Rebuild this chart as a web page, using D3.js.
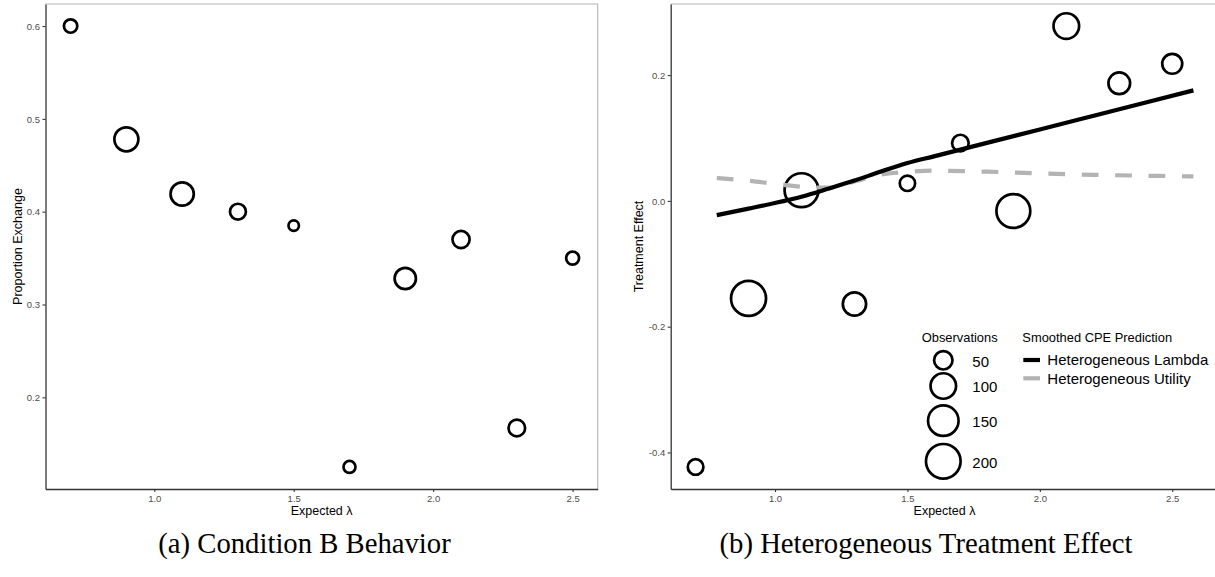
<!DOCTYPE html>
<html>
<head>
<meta charset="utf-8">
<script src="https://cdn.jsdelivr.net/npm/d3@7"></script>
<style>
  html, body { margin: 0; padding: 0; background: #fff; }
  svg { display: block; }
  .tick text { font-family: "Liberation Sans", Arial, sans-serif; font-size: 9.5px; fill: #4d4d4d; }
  .axis-title { font-family: "Liberation Sans", Arial, sans-serif; font-size: 12.5px; fill: #000; }
  .legend-title { font-family: "Liberation Sans", Arial, sans-serif; font-size: 12.9px; fill: #000; }
  .legend-label { font-family: "Liberation Sans", Arial, sans-serif; font-size: 15px; fill: #000; }
  .caption { font-family: "Liberation Serif", "Times New Roman", serif; font-size: 28.7px; fill: #000; }
</style>
</head>
<body>
<svg id="fig" width="1215" height="577"></svg>
<script>
// Expected lambda for each session group
const lambdaGroups = [0.7, 0.9, 1.1, 1.3, 1.5, 1.7, 1.9, 2.1, 2.3, 2.5];

// (a) Condition B: share of subjects who exchanged, with group sizes
const propExchange = [0.600, 0.478, 0.419, 0.400, 0.385, 0.125, 0.328, 0.370, 0.167, 0.350];
const condBObs = [31, 100, 94, 44, 19, 25, 79, 51, 48, 29];

// (b) Treatment effect per group, with number of observations
const treatEffect = [-0.423, -0.155, 0.017, -0.164, 0.028, 0.092, -0.016, 0.278, 0.187, 0.218];
const treatObs = [37, 205, 190, 82, 36, 41, 190, 101, 70, 59];

// Smoothed CPE predictions
const smoothLambdaX = [0.78, 0.9, 1.0, 1.1, 1.2, 1.3, 1.4, 1.5, 1.6, 1.8, 2.0, 2.2, 2.4, 2.58];
const predHetLambda = [-0.0227, -0.0122, -0.0033, 0.0067, 0.0192, 0.0323, 0.0467, 0.0601, 0.0708, 0.0922, 0.1136, 0.135, 0.1564, 0.1757];
const predHetUtility = [0.0365, 0.032, 0.027, 0.0225, 0.021, 0.031, 0.042, 0.046, 0.048, 0.0465, 0.0437, 0.0415, 0.040, 0.039];

// Tick values and legend entries
const xTicks = [1.0, 1.5, 2.0, 2.5];
const yTicksA = [0.2, 0.3, 0.4, 0.5, 0.6];
const yTicksB = [-0.4, -0.2, 0.0, 0.2];
const obsLegend = [50, 100, 150, 200];
const predSeries = ["Heterogeneous Lambda", "Heterogeneous Utility"];
const predColors = ["#000000", "#b3b3b3"];

const svg = d3.select("#fig");
svg.append("rect").attr("width", 1215).attr("height", 577).attr("fill", "#fff");

const fmt = v => d3.format(".1f")(v).replace("\u2212", "-");

// continuous range padded by 5% on each side
function padded(values) {
  const [lo, hi] = d3.extent(values);
  const p = (hi - lo) * 0.05;
  return [lo - p, hi + p];
}

function panel(box, xDomain, yDomain, yTicks, yTitle, yTitleX) {
  const g = svg.append("g");
  const x = d3.scaleLinear().domain(xDomain).range([box.x0, box.x1]);
  const y = d3.scaleLinear().domain(yDomain).range([box.y1, box.y0]);

  // light frame on top and right
  g.append("path")
    .attr("d", `M${box.x0},${box.y0}H${box.x1}V${box.y1}`)
    .attr("fill", "none").attr("stroke", "#b5b5b5").attr("stroke-width", 1.1);

  const xa = g.append("g").attr("transform", `translate(0,${box.y1})`)
    .call(d3.axisBottom(x).tickValues(xTicks).tickFormat(fmt).tickSize(3).tickSizeOuter(0).tickPadding(3));
  const ya = g.append("g").attr("transform", `translate(${box.x0},0)`)
    .call(d3.axisLeft(y).tickValues(yTicks).tickFormat(fmt).tickSize(3).tickSizeOuter(0).tickPadding(2.5));
  [xa, ya].forEach(a => {
    a.select(".domain").attr("stroke", "#333").attr("stroke-width", 1.3);
    a.selectAll(".tick line").attr("stroke", "#333").attr("stroke-width", 1.1);
  });
  ya.selectAll(".tick text").attr("dy", "0.34em");

  g.append("text").attr("class", "axis-title")
    .attr("x", (box.x0 + box.x1) / 2)
    .attr("y", box.y1 + 26).attr("text-anchor", "middle")
    .text("Expected \u03bb");
  g.append("text").attr("class", "axis-title")
    .attr("transform", `translate(${yTitleX},${(box.y0 + box.y1) / 2}) rotate(-90)`)
    .attr("text-anchor", "middle")
    .text(yTitle);
  return { g, x, y };
}

// ---------- (a) Condition B Behavior ----------
const boxA = { x0: 45.5, x1: 597.7, y0: 4, y1: 489 };
const pa = panel(boxA, padded(lambdaGroups), padded(propExchange), yTicksA, "Proportion Exchange", 21.5);
const rA = d3.scaleSqrt().domain([0, 100]).range([0, 12]);
pa.g.append("g").selectAll("circle")
  .data(lambdaGroups.map((l, i) => ({ l, v: propExchange[i], n: condBObs[i] })))
  .join("circle")
  .attr("cx", d => pa.x(d.l)).attr("cy", d => pa.y(d.v)).attr("r", d => rA(d.n))
  .attr("fill", "none").attr("stroke", "#000").attr("stroke-width", 2.7);

// ---------- (b) Heterogeneous Treatment Effect ----------
const boxB = { x0: 670.7, x1: 1218.3, y0: 4, y1: 489 };
const pb = panel(boxB, padded(lambdaGroups.concat(smoothLambdaX)), padded(treatEffect), yTicksB, "Treatment Effect", 643);

// point area grows with the square root of the rescaled count
const obsRescale = d3.scaleLinear().domain([20, 210]).range([0, 1]).clamp(true);
const obsRadius = d3.scaleLinear().domain([0, 1]).range([3.6, 17.7]);
const rB = n => obsRadius(Math.sqrt(obsRescale(n)));

pb.g.append("g").selectAll("circle")
  .data(lambdaGroups.map((l, i) => ({ l, v: treatEffect[i], n: treatObs[i] })))
  .join("circle")
  .attr("cx", d => pb.x(d.l)).attr("cy", d => pb.y(d.v)).attr("r", d => rB(d.n))
  .attr("fill", "none").attr("stroke", "#000").attr("stroke-width", 2.7);

const line = d3.line().x(d => pb.x(d[0])).y(d => pb.y(d[1])).curve(d3.curveMonotoneX);
pb.g.append("path")
  .attr("d", line(smoothLambdaX.map((l, i) => [l, predHetUtility[i]])))
  .attr("fill", "none").attr("stroke", predColors[1]).attr("stroke-width", 4.2)
  .attr("stroke-dasharray", "16.7 16.7");
pb.g.append("path")
  .attr("d", line(smoothLambdaX.map((l, i) => [l, predHetLambda[i]])))
  .attr("fill", "none").attr("stroke", predColors[0]).attr("stroke-width", 4.2);

// legend: observations
const leg = pb.g.append("g");
leg.append("text").attr("class", "legend-title").attr("x", 921.7).attr("y", 342).text("Observations");
const obsKeyY = [360.3, 386, 420.7, 461.3];
obsLegend.forEach((n, i) => {
  leg.append("circle").attr("cx", 943.3).attr("cy", obsKeyY[i]).attr("r", rB(n))
    .attr("fill", "none").attr("stroke", "#000").attr("stroke-width", 2.7);
  leg.append("text").attr("class", "legend-label").attr("x", 972.3).attr("y", obsKeyY[i] + 1)
    .attr("dy", "0.36em").text(n);
});

// legend: smoothed predictions
leg.append("text").attr("class", "legend-title").attr("x", 1022.3).attr("y", 342).text("Smoothed CPE Prediction");
predSeries.forEach((s, i) => {
  const yy = 360 + i * 18.3;
  leg.append("line").attr("x1", 1023.3).attr("x2", 1040).attr("y1", yy).attr("y2", yy)
    .attr("stroke", predColors[i]).attr("stroke-width", 4.2);
  leg.append("text").attr("class", "legend-label").attr("x", 1047.3).attr("y", yy).attr("dy", "0.36em").text(s);
});

// captions
svg.append("text").attr("class", "caption").attr("x", 304.5).attr("y", 553).attr("text-anchor", "middle")
  .text("(a) Condition B Behavior");
svg.append("text").attr("class", "caption").attr("x", 926).attr("y", 553).attr("text-anchor", "middle")
  .text("(b) Heterogeneous Treatment Effect");
</script>
</body>
</html>
